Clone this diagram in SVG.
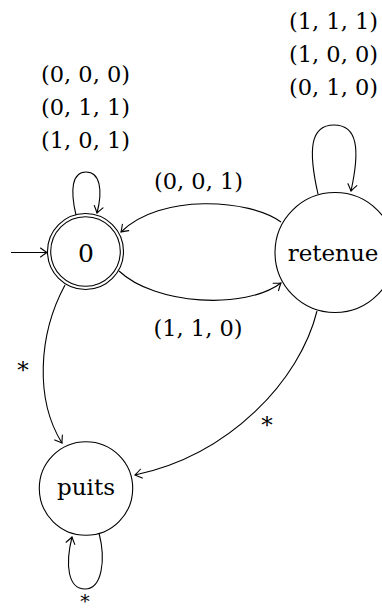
<svg xmlns="http://www.w3.org/2000/svg" width="382" height="613" viewBox="0 0 382 613">
<style>
  .st { fill: none; stroke: #000; stroke-width: 1.1; }
  .edge { fill: none; stroke: #000; stroke-width: 1.1; marker-end: url(#arr); }
  text { font-family: 'DejaVu Serif', serif; fill: #000; text-anchor: middle; }
  .lbl { font-size: 22.5px; }
  .word { font-size: 23px; }
  .num { font-size: 25px; }
  .ast { font-size: 23px; }
  .ast-low { font-size: 19px; }
</style>
<defs>
  <marker id="arr" markerUnits="userSpaceOnUse" viewBox="-9 -7 11 14" refX="0" refY="0" markerWidth="11" markerHeight="14" orient="auto" overflow="visible">
    <path d="M -6.5 -4.5 Q -2 -1.2 0 0 Q -2 1.2 -6.5 4.5" fill="none" stroke="#000" stroke-width="1.1" stroke-linecap="round"/>
  </marker>
</defs>
<rect width="382" height="613" fill="#fff"/>

<g id="node-0">
  <circle class="st" cx="85.5" cy="251.5" r="38"/>
  <circle class="st" cx="85.5" cy="251.5" r="34.8"/>
  <text class="num" x="86" y="262">0</text>
</g>
<g id="node-retenue">
  <circle class="st" cx="335" cy="252.5" r="60"/>
  <text class="word" x="333" y="261">retenue</text>
</g>
<g id="node-puits">
  <circle class="st" cx="86" cy="488.5" r="46.7"/>
  <text class="word" x="86" y="495">puits</text>
</g>

<g id="connectors">
  <line class="edge" x1="11" y1="252.5" x2="47" y2="252.5"/>
  <path class="edge" d="M 76 215 C 70 190, 72 172, 86 172 C 100 172, 103 190, 97 213"/>
  <path class="edge" d="M 318 194 C 308 150, 310 125, 334 125 C 358 125, 360 150, 351 191"/>
  <path class="edge" d="M 99 533 C 106 560, 102 589, 85 589 C 68 589, 65 565, 72 537"/>
  <path class="edge" d="M 281 222 C 250 199, 160 193, 121 232"/>
  <path class="edge" d="M 119 271 C 155 305, 245 310, 281 283"/>
  <path class="edge" d="M 65 285 C 38 335, 35 400, 62 443"/>
  <path class="edge" d="M 317 311 C 300 380, 230 455, 135 475"/>
</g>

<g id="labels">
  <text class="lbl" x="85.5" y="82">(0, 0, 0)</text>
  <text class="lbl" x="85.5" y="115">(0, 1, 1)</text>
  <text class="lbl" x="85.5" y="148">(1, 0, 1)</text>
  <text class="lbl" x="333.5" y="29">(1, 1, 1)</text>
  <text class="lbl" x="333.5" y="62">(1, 0, 0)</text>
  <text class="lbl" x="333.5" y="95">(0, 1, 0)</text>
  <text class="lbl" x="198.5" y="189">(0, 0, 1)</text>
  <text class="lbl" x="198" y="336">(1, 1, 0)</text>
  <text class="ast" x="23" y="378">*</text>
  <text class="ast" x="267" y="433">*</text>
  <text class="ast-low" x="85" y="608">*</text>
</g>
</svg>
